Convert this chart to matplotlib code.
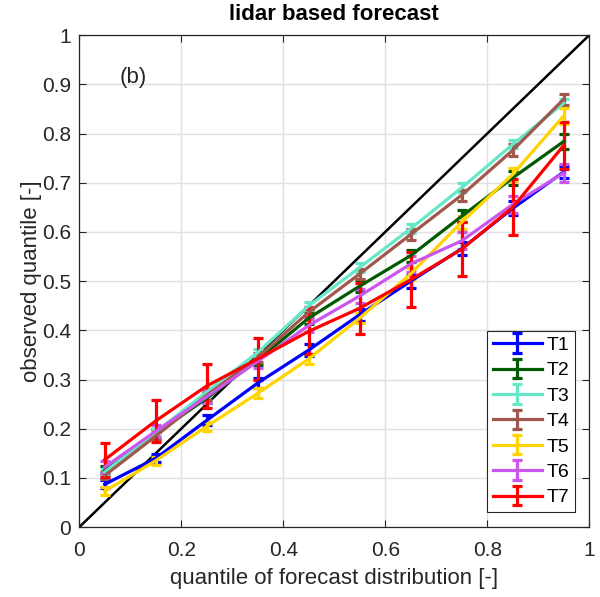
#!/usr/bin/env python3
# -*- coding: utf-8 -*-
"""
分位数可靠性图 (lidar based forecast)
"""

import numpy as np
import matplotlib
matplotlib.use('Agg')
import matplotlib.pyplot as plt

plt.rcParams['font.family'] = ['Liberation Sans', 'DejaVu Sans']

# 预报分布的分位数
quantiles = [0.05, 0.15, 0.25, 0.35, 0.45, 0.55, 0.65, 0.75, 0.85, 0.95]

labels = ['T1', 'T2', 'T3', 'T4', 'T5', 'T6', 'T7']
colors = ['#0000ff', '#005a00', '#66e8c8', '#a0584c', '#ffd400', '#cc55ee', '#ff0000']

# 观测分位数
t1 = [0.087, 0.140, 0.217, 0.293, 0.360, 0.432, 0.500, 0.566, 0.648, 0.722]
t2 = [0.115, 0.190, 0.262, 0.340, 0.425, 0.490, 0.552, 0.632, 0.710, 0.784]
t3 = [0.112, 0.193, 0.275, 0.355, 0.450, 0.528, 0.607, 0.690, 0.778, 0.862]
t4 = [0.105, 0.185, 0.268, 0.345, 0.437, 0.515, 0.595, 0.675, 0.766, 0.870]
t5 = [0.073, 0.135, 0.205, 0.272, 0.342, 0.425, 0.515, 0.620, 0.717, 0.836]
t6 = [0.122, 0.195, 0.265, 0.337, 0.410, 0.470, 0.535, 0.582, 0.656, 0.720]
t7 = [0.137, 0.216, 0.287, 0.342, 0.398, 0.445, 0.503, 0.565, 0.650, 0.776]

# 误差
e1 = [0.008, 0.008, 0.010, 0.010, 0.012, 0.012, 0.013, 0.013, 0.014, 0.013]
e2 = [0.010, 0.010, 0.010, 0.010, 0.012, 0.012, 0.012, 0.012, 0.014, 0.015]
e3 = [0.007, 0.007, 0.008, 0.008, 0.008, 0.009, 0.009, 0.009, 0.008, 0.008]
e4 = [0.008, 0.008, 0.009, 0.010, 0.010, 0.010, 0.011, 0.011, 0.012, 0.011]
e5 = [0.008, 0.008, 0.009, 0.010, 0.010, 0.011, 0.012, 0.013, 0.013, 0.016]
e6 = [0.012, 0.012, 0.013, 0.014, 0.014, 0.015, 0.016, 0.017, 0.017, 0.018]
e7 = [0.035, 0.042, 0.045, 0.043, 0.046, 0.052, 0.056, 0.055, 0.057, 0.047]

series = [t1, t2, t3, t4, t5, t6, t7]
errors = [e1, e2, e3, e4, e5, e6, e7]

fig = plt.figure(figsize=(6.0, 5.97), dpi=100)
ax = fig.add_axes([0.132, 0.117, 0.850, 0.824])

# 对角线
ax.plot([0, 1], [0, 1], color='black', linewidth=1.8, zorder=2)

for y, err, c, lab in zip(series, errors, colors, labels):
    ax.errorbar(quantiles, y, yerr=err, color=c, linewidth=2.3,
                elinewidth=2.3, capsize=3.5, capthick=2.3, label=lab, zorder=3)

ax.set_xlim(0, 1)
ax.set_ylim(0, 1)
ax.set_xticks(np.arange(0, 1.01, 0.2))
ax.set_yticks(np.arange(0, 1.01, 0.1))
ax.set_xticklabels(['0', '0.2', '0.4', '0.6', '0.8', '1'])
ax.set_yticklabels(['0', '0.1', '0.2', '0.3', '0.4', '0.5', '0.6', '0.7', '0.8', '0.9', '1'])
ax.grid(True, color='#e0e0e0', linewidth=1.0, zorder=0)
ax.set_axisbelow(True)
ax.tick_params(direction='in', top=True, right=True, labelsize=15,
               colors='#262626', length=5)
ax.tick_params(axis='x', pad=10)
ax.tick_params(axis='y', pad=6)
for s in ax.spines.values():
    s.set_color('#262626')
    s.set_linewidth(0.9)

ax.set_xlabel('quantile of forecast distribution [-]', fontsize=16, color='#262626', labelpad=6)
ax.set_ylabel('observed quantile [-]', fontsize=16, color='#262626', labelpad=0)
ax.set_title('lidar based forecast', fontsize=16, fontweight='bold', pad=11)
ax.text(0.08, 0.915, '(b)', fontsize=16, ha='left', va='center', color='#262626')

leg = ax.legend(loc='lower right', fontsize=14, handlelength=2.5, handletextpad=0.25,
                labelspacing=0.4, borderpad=0.3, borderaxespad=0, fancybox=False,
                framealpha=1, bbox_to_anchor=(0.9725, 0.0305))
leg.get_frame().set_edgecolor('#262626')
leg.get_frame().set_linewidth(0.8)

fig.savefig('out.png', dpi=100)
